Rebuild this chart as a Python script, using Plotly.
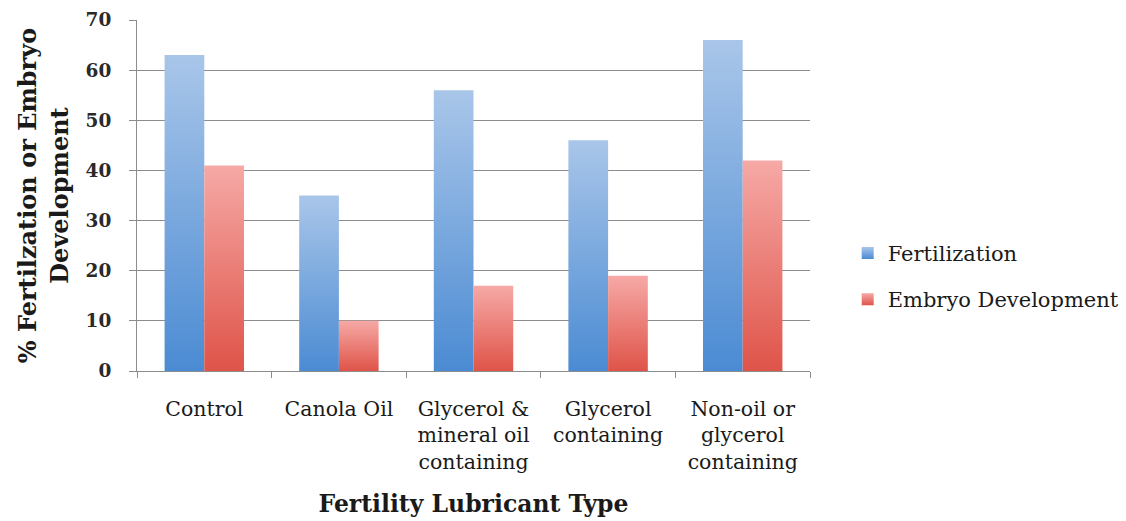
import plotly.graph_objects as go

categories = ["Control", "Canola Oil", "Glycerol &<br>mineral oil<br>containing",
              "Glycerol<br>containing", "Non-oil or<br>glycerol<br>containing"]
fertilization = [63, 35, 56, 46, 66]
embryo = [41, 10, 17, 19, 42]
series_names = ["Fertilization", "Embryo Development"]
y_ticks = [0, 10, 20, 30, 40, 50, 60, 70]

FONT = "DejaVu Serif"
TXT = "#1a1a1a"

fig = go.Figure()
fig.add_trace(go.Bar(x=categories, y=fertilization, name=series_names[0],
                     marker=dict(color="#7ba8dd", line=dict(width=0)), legendgroup="a"))
fig.add_trace(go.Bar(x=categories, y=embryo, name=series_names[1],
                     marker=dict(color="#ec847e", line=dict(width=0)), legendgroup="b"))

fig.update_layout(
    width=1126, height=521,
    margin=dict(l=137, r=316, t=20, b=150, autoexpand=False),
    paper_bgcolor="white", plot_bgcolor="white",
    barmode="group", bargap=0.41, bargroupgap=0,
    font=dict(family=FONT, color=TXT),
    showlegend=True,
    legend=dict(x=1.056, xanchor="left", y=0.27, yanchor="middle",
                font=dict(size=21, family=FONT, color=TXT),
                traceorder="grouped", tracegroupgap=16,
                itemwidth=30),
    xaxis=dict(
        automargin=False,
        showline=True, linecolor="#8c8c8c", linewidth=1,
        ticks="outside", tickson="boundaries", ticklen=6, tickcolor="#8c8c8c",
        tickfont=dict(size=20.5, family=FONT, color=TXT),
        ticklabelstandoff=19,
        title=dict(text="<b>Fertility Lubricant Type</b>", font=dict(size=23.5, family=FONT, color=TXT),
                   standoff=22),
    ),
    yaxis=dict(
        automargin=False,
        range=[0, 70], tickvals=y_ticks,
        showline=True, linecolor="#8c8c8c", linewidth=1,
        showgrid=True, gridcolor="#8c8c8c", gridwidth=1,
        ticks="outside", ticklen=7, tickcolor="#8c8c8c",
        tickfont=dict(size=18.5, family=FONT, weight="bold", color="#2a2a2a"),
        ticklabelstandoff=14,
        zeroline=False,
        title=dict(text="<b>% Fertilzation or Embryo<br>Development</b>",
                   font=dict(size=24, family=FONT, color=TXT), standoff=10),
    ),
)

post = """
document.body.style.margin='0';
var gd = document.getElementById('{plot_id}');
function applyGrad(){
  var ns='http://www.w3.org/2000/svg';
  var svg = gd.querySelector('svg.main-svg');
  if(!svg) return;
  var defs = svg.querySelector('defs');
  if(!defs){defs=document.createElementNS(ns,'defs'); svg.insertBefore(defs, svg.firstChild);}
  function mk(id,c1,c2){
    if(svg.querySelector('#'+id)) return;
    var g=document.createElementNS(ns,'linearGradient');
    g.setAttribute('id',id);g.setAttribute('x1','0');g.setAttribute('y1','0');g.setAttribute('x2','0');g.setAttribute('y2','1');
    var s1=document.createElementNS(ns,'stop');s1.setAttribute('offset','0');s1.setAttribute('stop-color',c1);
    var s2=document.createElementNS(ns,'stop');s2.setAttribute('offset','1');s2.setAttribute('stop-color',c2);
    g.appendChild(s1);g.appendChild(s2);defs.appendChild(g);
  }
  mk('gb','#a9c6e9','#4b8bd3');
  mk('gr','#f6a9a6','#df5449');
  var traces = gd.querySelectorAll('.barlayer .trace.bars');
  traces.forEach(function(t,i){
    t.querySelectorAll('path').forEach(function(p){p.style.fill='url(#'+(i==0?'gb':'gr')+')';});
  });
  var leg = gd.querySelectorAll('.legend .traces');
  leg.forEach(function(t,i){
    t.querySelectorAll('.legendpoints path').forEach(function(p){p.style.fill='url(#'+(i==0?'gb':'gr')+')';});
  });
}
applyGrad();
gd.on('plotly_afterplot', applyGrad);
"""

fig.write_html("out.html", post_script=post, config={"displayModeBar": False})
